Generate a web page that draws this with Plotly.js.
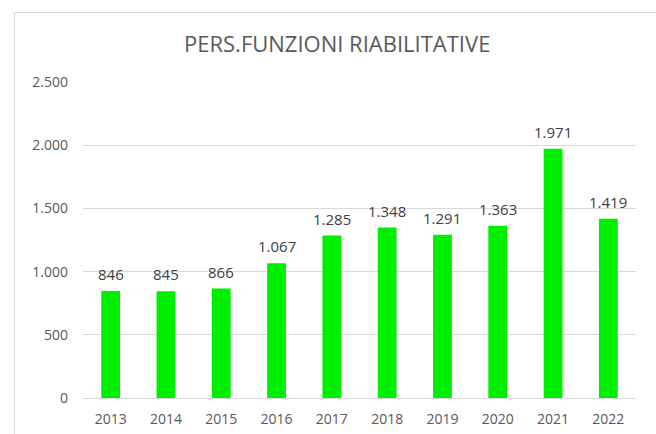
<!DOCTYPE html>
<html><head><meta charset="utf-8">
<script src="https://cdn.plot.ly/plotly-3.0.1.min.js"></script>
<style>
html,body{margin:0;padding:0;background:#fff;overflow:hidden;}
#frame{position:absolute;left:14px;top:12px;width:700px;height:500px;border:1.5px solid #d9d9d9;box-sizing:border-box;}
#chart{position:absolute;left:0;top:0;width:656px;height:434px;}
</style></head>
<body>
<div id="frame"></div>
<div id="chart"></div>
<script>
const years = ['2013','2014','2015','2016','2017','2018','2019','2020','2021','2022'];
const values = [846, 845, 866, 1067, 1285, 1348, 1291, 1363, 1971, 1419];
const yTicks = [0, 500, 1000, 1500, 2000, 2500];

const fmt = v => String(v).replace(/\B(?=(\d{3})+(?!\d))/g, '.');

const trace = {
  type: 'bar',
  x: years,
  y: values,
  marker: {color: '#00EE00'},
  hoverinfo: 'none'
};

// category axis: annotation x given as category index
const labels = years.map((yr, i) => ({
  x: i, y: values[i], xref: 'x', yref: 'y',
  text: fmt(values[i]), showarrow: false,
  yanchor: 'bottom', yshift: 5,
  font: {family: 'Open Sans, sans-serif', size: 15, color: '#404040'}
}));

const layout = {
  width: 656, height: 434,
  margin: {l: 83, r: 20, t: 82, b: 36},
  paper_bgcolor: 'rgba(0,0,0,0)',
  plot_bgcolor: 'rgba(0,0,0,0)',
  separators: ',.',
  bargap: 0.66,
  font: {family: 'Open Sans, sans-serif', color: '#595959'},
  title: {text: 'PERS.FUNZIONI RIABILITATIVE', x: 0.514, xanchor: 'center', y: 0.897, yanchor: 'middle',
          font: {family: 'Open Sans, sans-serif', size: 22, color: '#595959'}},
  xaxis: {type: 'category', showgrid: false, showline: false, ticks: '', zeroline: false,
          tickfont: {size: 14, color: '#595959'}, ticklabelstandoff: 11},
  yaxis: {range: [0, 2500], tickvals: yTicks, tickformat: ',d', showgrid: true, gridcolor: '#d9d9d9',
          gridwidth: 1, zeroline: true, zerolinecolor: '#d9d9d9', zerolinewidth: 1, showline: false, ticks: '',
          tickfont: {size: 14, color: '#595959'}, ticklabelstandoff: 14},
  annotations: labels,
  showlegend: false
};

Plotly.newPlot('chart', [trace], layout, {staticPlot: true, displayModeBar: false});
</script>
</body></html>
